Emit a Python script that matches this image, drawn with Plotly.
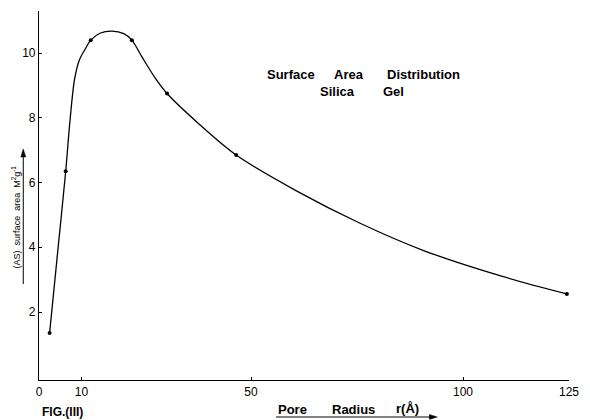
import plotly.graph_objects as go

# Drawn curve
curve_r = [2.5, 4.4, 6.3, 7.3, 8.4, 9.5, 11, 12.2, 14.5, 17.2, 20, 21.9, 24.2, 27.3,
           30.2, 37.4, 46.5, 60.6, 75.6, 90.7, 109.3, 124.5]
curve_as = [1.35, 3.85, 6.35, 7.9, 9.2, 9.78, 10.15, 10.4, 10.62, 10.68, 10.6, 10.4,
            9.9, 9.25, 8.75, 7.85, 6.85, 5.75, 4.75, 3.90, 3.10, 2.56]

# Plotted experimental points
point_r = [2.5, 6.3, 12.2, 21.9, 30.2, 46.5, 124.5]
point_as = [1.35, 6.35, 10.4, 10.4, 8.75, 6.85, 2.56]

x_ticks = [0, 10, 50, 100, 125]
y_ticks = [2, 4, 6, 8, 10]

FONT = "Liberation Sans"

# layout geometry (pixels)
L, R, T, B = 39, 12, 11, 40
W, H = 590, 420
PW, PH = W - L - R, H - T - B


def px(xp):
    return (xp - L) / PW


def py(yp):
    return (H - B - yp) / PH


fig = go.Figure()
fig.add_trace(go.Scatter(x=curve_r, y=curve_as, mode="lines",
                         line=dict(color="black", width=1.3, shape="spline", smoothing=0.9),
                         hoverinfo="skip", showlegend=False))
fig.add_trace(go.Scatter(x=point_r, y=point_as, mode="markers",
                         marker=dict(color="black", size=4),
                         showlegend=False))

fig.update_layout(
    width=W, height=H,
    margin=dict(l=L, r=R, t=T, b=B),
    paper_bgcolor="white", plot_bgcolor="white",
    font=dict(family=FONT, color="black"),
    xaxis=dict(range=[0, 125], showgrid=False, zeroline=False, showline=True,
               linecolor="black", linewidth=1.2, tickmode="array", tickvals=x_ticks,
               ticktext=[str(t) for t in x_ticks], ticks="inside", ticklen=3,
               tickcolor="black", tickfont=dict(size=12, family=FONT)),
    yaxis=dict(range=[-0.1, 11.3], showgrid=False, zeroline=False, showline=True,
               linecolor="black", linewidth=1.2, tickmode="array", tickvals=y_ticks,
               ticktext=[str(t) for t in y_ticks], ticks="inside", ticklen=3,
               tickcolor="black", tickfont=dict(size=12, family=FONT)),
)


def word(text, cx, cy, size=12, bold=True, angle=0):
    t = f"<b>{text}</b>" if bold else text
    return dict(xref="paper", yref="paper", x=px(cx), y=py(cy), text=t,
                showarrow=False, textangle=angle, font=dict(size=size, family=FONT),
                xanchor="center", yanchor="middle")


ann = [
    word("Surface", 295, 74, size=13),
    word("Area", 354, 74, size=13),
    word("Distribution", 430, 74, size=13),
    word("Silica", 343, 92, size=13),
    word("Gel", 400, 92, size=13),
    word("Pore", 297, 409, size=13),
    word("Radius", 359, 409, size=13),
    word("r(Å)", 414, 408, size=13),
    word("FIG.(III)", 63, 412, size=12),
    word("(AS)&nbsp;&nbsp;surface&nbsp;&nbsp;area&nbsp;&nbsp;M<sup>2</sup>g<sup>-1</sup>",
         16, 217, size=9, bold=False, angle=-90),
]
fig.update_layout(annotations=ann)

# underline arrows (lines + small triangular heads)
shapes = [
    dict(type="line", xref="paper", yref="paper", x0=px(23), y0=py(284), x1=px(23), y1=py(154),
         line=dict(color="black", width=1)),
    dict(type="path", xref="paper", yref="paper",
         path=f"M {px(23)} {py(149)} L {px(20.5)} {py(157)} L {px(25.5)} {py(157)} Z",
         fillcolor="black", line=dict(color="black", width=0.5)),
    dict(type="line", xref="paper", yref="paper", x0=px(280), y0=py(417), x1=px(438), y1=py(417),
         line=dict(color="black", width=1)),
    dict(type="path", xref="paper", yref="paper",
         path=f"M {px(444)} {py(417)} L {px(436)} {py(414.5)} L {px(436)} {py(419.5)} Z",
         fillcolor="black", line=dict(color="black", width=0.5)),
]
fig.update_layout(shapes=shapes)

fig.write_html("out.html")
